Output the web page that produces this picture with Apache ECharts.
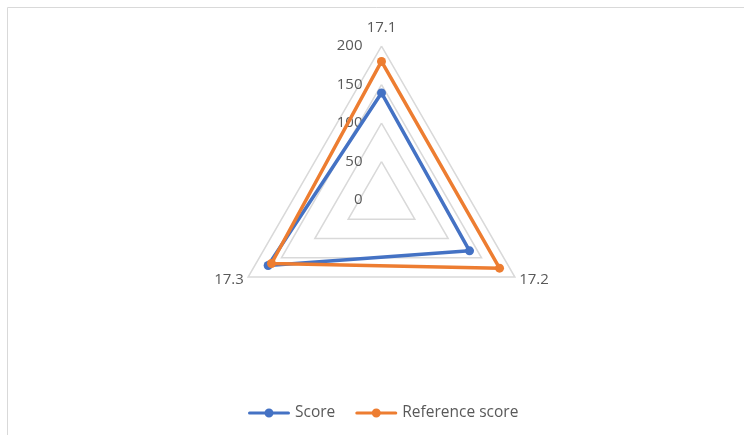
<!DOCTYPE html>
<html>
<head>
<meta charset="utf-8">
<script src="https://cdn.jsdelivr.net/npm/echarts@6/dist/echarts.min.js"></script>
<style>
  html, body { margin: 0; padding: 0; background: #ffffff; }
  #chart { width: 744px; height: 435px; }
</style>
</head>
<body>
<div id="chart"></div>
<script>
// Radar axes (clockwise from the top) and the two score series
const categories = ['17.1', '17.2', '17.3'];
const scoreValues = [139, 132, 170];
const referenceValues = [180, 177, 165];
const seriesNames = ['Score', 'Reference score'];
const axisMax = 200;
const axisStep = 50;

const FONT = 'Open Sans';
const TEXT = '#595959';
const GRID = '#d9d9d9';
const BLUE = '#4472c4';
const ORANGE = '#ed7d31';

// ECharts lays radar indicators out counter-clockwise; reverse all but the
// first so the axes run clockwise.
const order = [0].concat(categories.slice(1).map((_, i) => categories.length - 1 - i));
const indicator = order.map((k, i) => {
  const ind = { name: categories[k], min: 0, max: axisMax };
  if (i === 0) {
    ind.axisLabel = { show: true };
    ind.nameGap = 11;
  }
  return ind;
});
const reorder = arr => order.map(k => arr[k]);

const legendIcon = 'path://M1.5,4.5 L40.5,4.5 A1.5,1.5 0 0 1 40.5,7.5 L1.5,7.5 A1.5,1.5 0 0 1 1.5,4.5 Z M21,1.5 A4.5,4.5 0 1 1 21,10.5 A4.5,4.5 0 1 1 21,1.5 Z';

const chart = echarts.init(document.getElementById('chart'));
chart.setOption({
  animation: false,
  graphic: [{
    type: 'rect',
    shape: { x: 7.5, y: 7.5, width: 800, height: 500 },
    style: { fill: 'none', stroke: GRID, lineWidth: 1 },
    silent: true
  }],
  legend: {
    data: seriesNames,
    left: 243,
    top: 400,
    itemWidth: 42,
    itemHeight: 12,
    itemGap: 20,
    icon: legendIcon,
    textStyle: { color: TEXT, fontFamily: FONT, fontSize: 15.5 }
  },
  radar: {
    center: [381.5, 200],
    radius: 154,
    startAngle: 90,
    shape: 'polygon',
    splitNumber: axisMax / axisStep,
    indicator: indicator,
    nameGap: 5,
    axisName: { color: TEXT, fontFamily: FONT, fontSize: 15 },
    axisLine: { show: false },
    axisTick: { show: false },
    axisLabel: {
      show: false,
      color: TEXT,
      fontFamily: FONT,
      fontSize: 15,
      margin: 19,
      padding: [4, 0, 0, 0]
    },
    splitLine: { lineStyle: { color: GRID, width: 1.5 } },
    splitArea: { show: false }
  },
  series: [{
    type: 'radar',
    symbol: 'circle',
    symbolSize: 9,
    data: [
      {
        name: seriesNames[0],
        value: reorder(scoreValues),
        itemStyle: { color: BLUE },
        lineStyle: { color: BLUE, width: 3.5 }
      },
      {
        name: seriesNames[1],
        value: reorder(referenceValues),
        itemStyle: { color: ORANGE },
        lineStyle: { color: ORANGE, width: 3.5 }
      }
    ]
  }]
});
</script>
</body>
</html>
